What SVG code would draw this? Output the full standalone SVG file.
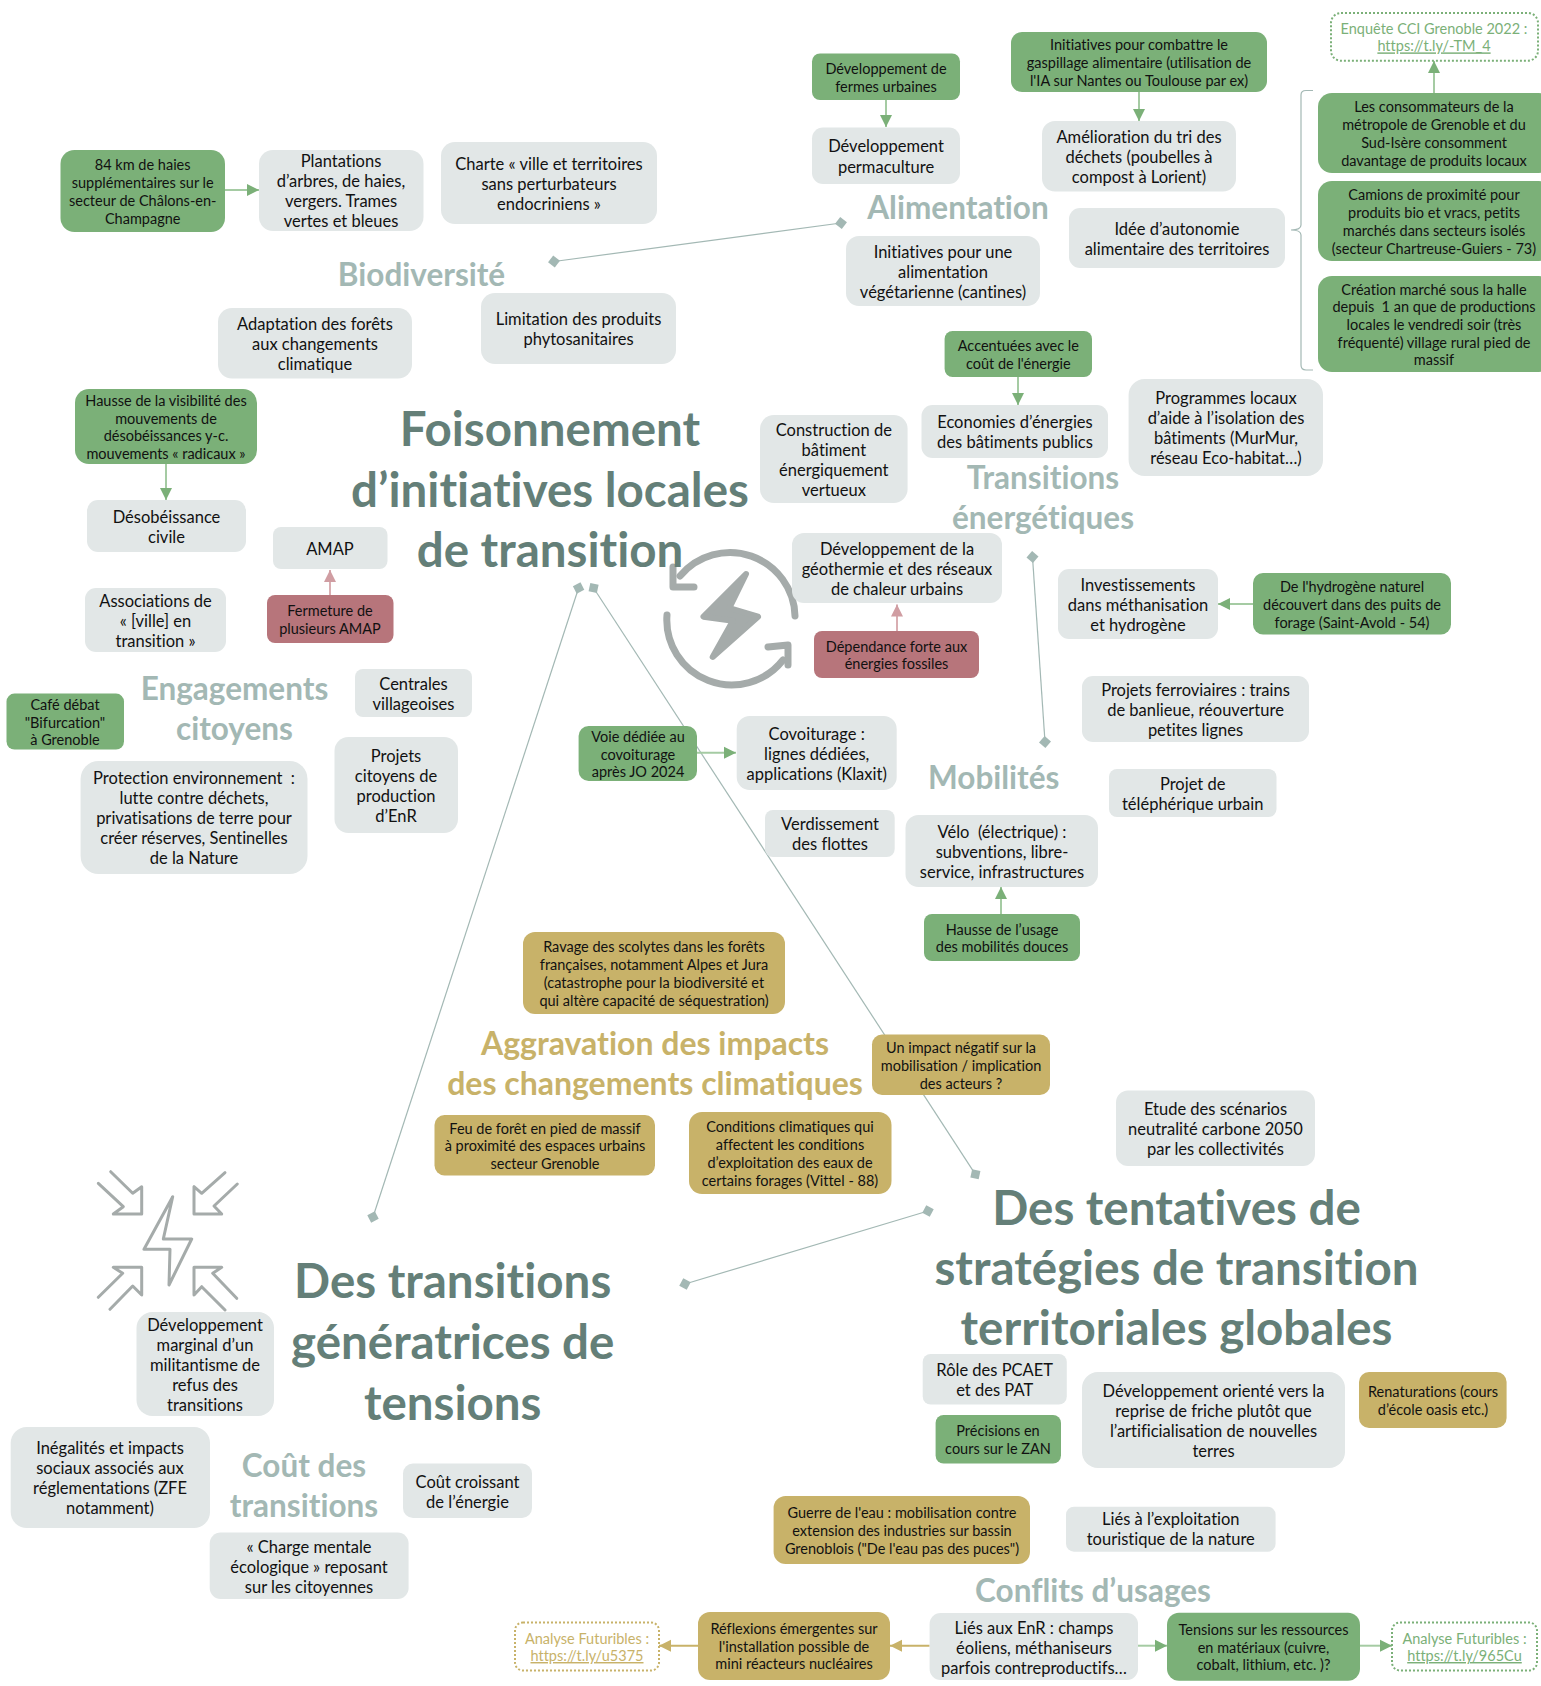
<svg xmlns="http://www.w3.org/2000/svg" width="1541" height="1686" viewBox="0 0 1541 1686">
<style>
text{font-family:"Lato","Noto Sans",sans-serif;text-anchor:middle;fill:#111;font-variant-ligatures:none;white-space:pre}
.g{fill:#e2e7e7}.v{fill:#7bb078}.r{fill:#b7757b}.o{fill:#c8b269}
.s{font-size:16.5px;transform:translateY(1px)}.c{font-size:14.5px;transform:translateY(1px)}
.h1{font-size:47.5px;font-weight:700;fill:#647f78}
.h2{font-size:31.5px;font-weight:700;fill:#a3b8b4}
.h3{font-size:32px;font-weight:700;fill:#c8b269}
.lv,.lo{font-size:14.5px;transform:translateY(1px)}.lv{fill:#7bb078}.lo{fill:#c8b269}
.u{text-decoration:underline}
.dv,.do{fill:#fff;stroke-width:2;stroke-dasharray:2 2}.dv{stroke:#7bb078}.do{stroke:#c8b269}
.link{fill:none;stroke:#a3b8b4;stroke-width:1.2}
.ag{stroke:#a5cba3;stroke-width:2;fill:none}.ar{stroke:#d9aeb2;stroke-width:2;fill:none}.ao{stroke:#c8b269;stroke-width:2;fill:none}
.ic{fill:none;stroke:#a5abaa;stroke-linejoin:round;stroke-linecap:round}
</style>
<defs>
<marker id="mg" markerUnits="userSpaceOnUse" markerWidth="13" markerHeight="13" refX="12" refY="6.5" orient="auto"><path d="M0 0.5L12 6.5L0 12.5Z" fill="#7bb078"/></marker>
<marker id="mr" markerUnits="userSpaceOnUse" markerWidth="13" markerHeight="13" refX="12" refY="6.5" orient="auto"><path d="M0 0.5L12 6.5L0 12.5Z" fill="#d09da2"/></marker>
<marker id="mo" markerUnits="userSpaceOnUse" markerWidth="13" markerHeight="13" refX="12" refY="6.5" orient="auto"><path d="M0 0.5L12 6.5L0 12.5Z" fill="#c8b269"/></marker>
<marker id="dm" markerUnits="userSpaceOnUse" markerWidth="14" markerHeight="14" refX="7" refY="7" orient="auto"><path d="M7 1L13 7L7 13L1 7Z" fill="#a3b8b4"/></marker>
</defs>
<rect width="1541" height="1686" fill="#fff"/>
<g id="connectors">
<path class="link" marker-start="url(#dm)" marker-end="url(#dm)" d="M554 261.5L841 223"/>
<path class="link" marker-start="url(#dm)" marker-end="url(#dm)" d="M1032.5 557L1045 742"/>
<path class="link" marker-start="url(#dm)" marker-end="url(#dm)" d="M578.6 588L373 1217"/>
<path class="link" marker-start="url(#dm)" marker-end="url(#dm)" d="M593.6 588L975.4 1174.3"/>
<path class="link" marker-start="url(#dm)" marker-end="url(#dm)" d="M685 1284L928 1211"/>
<path class="ag" marker-end="url(#mg)" d="M225 190H259"/>
<path class="ag" marker-end="url(#mg)" d="M166 464V500"/>
<path class="ag" marker-end="url(#mg)" d="M886 100V127"/>
<path class="ag" marker-end="url(#mg)" d="M1139 92V121"/>
<path class="ag" marker-end="url(#mg)" d="M1434 93V61"/>
<path class="ag" marker-end="url(#mg)" d="M1018 377V405"/>
<path class="ag" marker-end="url(#mg)" d="M1253 604H1218"/>
<path class="ag" marker-end="url(#mg)" d="M697 752.7H736"/>
<path class="ag" marker-end="url(#mg)" d="M1001 914V887"/>
<path class="ar" marker-end="url(#mr)" d="M897 631V604.5"/>
<path class="ar" marker-end="url(#mr)" d="M330 595V570"/>
<path class="ao" marker-end="url(#mo)" d="M929.6 1645.7H890"/>
<path class="ao" marker-end="url(#mo)" d="M698 1645.7H659"/>
<path class="ag" marker-end="url(#mg)" d="M1138 1645.7H1167"/>
<path class="ag" marker-end="url(#mg)" d="M1360 1645.7H1392"/>
<path fill="none" stroke="#a3b8b4" stroke-width="1.2" d="M1313 90.5H1306Q1301 90.5 1301 95V225Q1301 230 1291 230Q1301 230 1301 235V365Q1301 370 1306 370H1313"/>
</g>
<g id="icon-cycle">
<path class="ic" stroke-width="7" d="M795 616A65 65 0 0 0 680 576"/>
<path class="ic" stroke-width="7" d="M673 567V587H694"/>
<path class="ic" stroke-width="7" d="M667 615A65 65 0 0 0 783 660"/>
<path class="ic" stroke-width="7" d="M768 647L788 645V665"/>
<path d="M746 574L703.5 616.7L733 620.7L712.7 657L758 616.7L729.3 608Z" fill="#a5abaa" stroke="#a5abaa" stroke-width="6" stroke-linejoin="round"/>
</g>
<g id="icon-tension">
<path class="ic" stroke-width="3" d="M172.7 1196.7L144 1249.3H170L169 1285L191.7 1239H163.3Z"/>
<path class="ic" stroke-width="3" d="M98.3 1183.3L123.3 1206.7L113.3 1214H141.7V1186.7L132.7 1193.3L110.7 1171.7"/>
<path class="ic" stroke-width="3" d="M225 1172.7L201.7 1193.3L194 1186.7V1214H221.7L214 1206L237.3 1184"/>
<path class="ic" stroke-width="3" d="M98.3 1297.3L122.7 1273.3L113.3 1267.3H141.7V1295L132.7 1286L110 1309.3"/>
<path class="ic" stroke-width="3" d="M236.7 1298.3L212.7 1273.3L221.7 1267.3H194V1295L201.7 1286.7L225 1310"/>
</g>
<g id="titles">
<text class="h1" x="550" y="446">Foisonnement<tspan x="550" y="506.5">d’initiatives locales</tspan><tspan x="550" y="567">de transition</tspan></text>
<text class="h1" x="1176.5" y="1225">Des tentatives de<tspan x="1176.5" y="1285">stratégies de transition</tspan><tspan x="1176.5" y="1345">territoriales globales</tspan></text>
<text class="h1" x="452.7" y="1298">Des transitions<tspan x="452.7" y="1359">génératrices de</tspan><tspan x="452.7" y="1420">tensions</tspan></text>
<text class="h2" x="421.5" y="286">Biodiversité</text>
<text class="h2" x="958" y="219">Alimentation</text>
<text class="h2" x="1043" y="489">Transitions<tspan x="1043" y="529">énergétiques</tspan></text>
<text class="h2" x="234.5" y="700">Engagements<tspan x="234.5" y="740">citoyens</tspan></text>
<text class="h2" x="993.7" y="789">Mobilités</text>
<text class="h2" x="304" y="1477">Coût des<tspan x="304" y="1517">transitions</tspan></text>
<text class="h2" x="1093" y="1602">Conflits d’usages</text>
<text class="h3" x="655" y="1055">Aggravation des impacts<tspan x="655" y="1095">des changements climatiques</tspan></text>
</g>
<g id="n1"><rect class="v" x="60.5" y="150" width="164.5" height="82" rx="14"/><text class="c" x="142.7" y="169.4">84 km de haies<tspan x="142.7" dy="17.7">supplémentaires sur le</tspan><tspan x="142.7" dy="17.7">secteur de Châlons-en-</tspan><tspan x="142.7" dy="17.7">Champagne</tspan></text></g>
<g id="n2"><rect class="g" x="259" y="150" width="164.5" height="81" rx="14"/><text class="s" x="341" y="166">Plantations<tspan x="341" dy="20">d’arbres, de haies,</tspan><tspan x="341" dy="20">vergers. Trames</tspan><tspan x="341" dy="20">vertes et bleues</tspan></text></g>
<g id="n3"><rect class="g" x="441" y="142" width="216" height="82" rx="14"/><text class="s" x="549" y="168.6">Charte « ville et territoires<tspan x="549" dy="20">sans perturbateurs</tspan><tspan x="549" dy="20">endocriniens »</tspan></text></g>
<g id="n4"><rect class="g" x="218" y="308" width="194" height="70.6" rx="14"/><text class="s" x="315" y="329">Adaptation des forêts<tspan x="315" dy="20">aux changements</tspan><tspan x="315" dy="20">climatique</tspan></text></g>
<g id="n5"><rect class="g" x="481" y="293" width="195" height="71" rx="14"/><text class="s" x="578.5" y="324">Limitation des produits<tspan x="578.5" dy="20">phytosanitaires</tspan></text></g>
<g id="n6"><rect class="v" x="75" y="389" width="182" height="75" rx="14"/><text class="c" x="166" y="405">Hausse de la visibilité des<tspan x="166" dy="17.7">mouvements de</tspan><tspan x="166" dy="17.7">désobéissances y-c.</tspan><tspan x="166" dy="17.7">mouvements « radicaux »</tspan></text></g>
<g id="n7"><rect class="g" x="87" y="500" width="159" height="52" rx="11"/><text class="s" x="166.5" y="521.6">Désobéissance<tspan x="166.5" dy="20">civile</tspan></text></g>
<g id="n8"><rect class="g" x="273" y="527" width="114.5" height="42" rx="8"/><text class="s" x="330" y="553.6">AMAP</text></g>
<g id="n9"><rect class="r" x="267" y="595" width="126.5" height="48" rx="8"/><text class="c" x="330" y="615">Fermeture de<tspan x="330" dy="17.7">plusieurs AMAP</tspan></text></g>
<g id="n10"><rect class="g" x="85" y="588" width="141" height="64" rx="11"/><text class="s" x="155.5" y="605.6">Associations de<tspan x="155.5" dy="20">« [ville] en</tspan><tspan x="155.5" dy="20">transition »</tspan></text></g>
<g id="n11"><rect class="v" x="6.5" y="693.6" width="117.5" height="55.9" rx="8"/><text class="c" x="65" y="708.8">Café débat<tspan x="65" dy="17.7">"Bifurcation"</tspan><tspan x="65" dy="17.7">à Grenoble</tspan></text></g>
<g id="n12"><rect class="g" x="355" y="669" width="117" height="48" rx="8"/><text class="s" x="413.5" y="688.6">Centrales<tspan x="413.5" dy="20">villageoises</tspan></text></g>
<g id="n13"><rect class="g" x="334.5" y="737" width="123.5" height="96" rx="14"/><text class="s" x="396" y="760.6">Projets<tspan x="396" dy="20">citoyens de</tspan><tspan x="396" dy="20">production</tspan><tspan x="396" dy="20">d’EnR</tspan></text></g>
<g id="n14"><rect class="g" x="80.6" y="761" width="226.9" height="113" rx="18"/><text class="s" x="194" y="783">Protection environnement  :<tspan x="194" dy="20">lutte contre déchets,</tspan><tspan x="194" dy="20">privatisations de terre pour</tspan><tspan x="194" dy="20">créer réserves, Sentinelles</tspan><tspan x="194" dy="20">de la Nature</tspan></text></g>
<g id="n15"><rect class="v" x="578.6" y="726" width="118.4" height="55" rx="10"/><text class="c" x="638" y="740.8">Voie dédiée au<tspan x="638" dy="17.7">covoiturage</tspan><tspan x="638" dy="17.7">après JO 2024</tspan></text></g>
<g id="n16"><rect class="g" x="736.7" y="716" width="160" height="74" rx="13"/><text class="s" x="816.7" y="738.6">Covoiturage :<tspan x="816.7" dy="20">lignes dédiées,</tspan><tspan x="816.7" dy="20">applications (Klaxit)</tspan></text></g>
<g id="n17"><rect class="g" x="765" y="810" width="129.7" height="47" rx="8"/><text class="s" x="830" y="829">Verdissement<tspan x="830" dy="20">des flottes</tspan></text></g>
<g id="n18"><rect class="g" x="905.5" y="815" width="192.5" height="72" rx="13"/><text class="s" x="1002" y="836.6">Vélo  (électrique) :<tspan x="1002" dy="20">subventions, libre-</tspan><tspan x="1002" dy="20">service, infrastructures</tspan></text></g>
<g id="n19"><rect class="v" x="924" y="914" width="156" height="47" rx="8"/><text class="c" x="1002" y="933.6">Hausse de l’usage<tspan x="1002" dy="17.7">des mobilités douces</tspan></text></g>
<g id="n20"><rect class="g" x="812" y="127.5" width="148" height="56.5" rx="11"/><text class="s" x="886" y="151.3">Développement<tspan x="886" dy="21">permaculture</tspan></text></g>
<g id="n21"><rect class="v" x="812" y="53.5" width="148" height="46.5" rx="8"/><text class="c" x="886" y="72.8">Développement de<tspan x="886" dy="17.7">fermes urbaines</tspan></text></g>
<g id="n22"><rect class="v" x="1011" y="32" width="256" height="60" rx="11"/><text class="c" x="1139" y="49.3">Initiatives pour combattre le<tspan x="1139" dy="17.7">gaspillage alimentaire (utilisation de</tspan><tspan x="1139" dy="17.7">l'IA sur Nantes ou Toulouse par ex)</tspan></text></g>
<g id="n23"><rect class="g" x="1042" y="121" width="194" height="70.5" rx="13"/><text class="s" x="1139" y="141.7">Amélioration du tri des<tspan x="1139" dy="20">déchets (poubelles à</tspan><tspan x="1139" dy="20">compost à Lorient)</tspan></text></g>
<g id="n24"><rect class="g" x="846" y="236" width="194" height="70" rx="13"/><text class="s" x="943" y="256.6">Initiatives pour une<tspan x="943" dy="20">alimentation</tspan><tspan x="943" dy="20">végétarienne (cantines)</tspan></text></g>
<g id="n25"><rect class="g" x="1069" y="208" width="216" height="60" rx="11"/><text class="s" x="1177" y="233.6">Idée d’autonomie<tspan x="1177" dy="20">alimentaire des territoires</tspan></text></g>
<g id="n26"><rect class="dv" x="1331" y="13" width="207" height="47.7" rx="10"/><text class="lv" x="1434" y="33">Enquête CCI Grenoble 2022 :<tspan class="u" x="1434" y="50.4">https://t.ly/-TM_4</tspan></text></g>
<g id="n27"><rect class="v" x="1318" y="93" width="235" height="80" rx="14"/><text class="c" x="1434" y="111.4">Les consommateurs de la<tspan x="1434" dy="17.7">métropole de Grenoble et du</tspan><tspan x="1434" dy="17.7">Sud-Isère consomment</tspan><tspan x="1434" dy="17.7">davantage de produits locaux</tspan></text></g>
<g id="n28"><rect class="v" x="1318" y="181" width="235" height="80" rx="14"/><text class="c" x="1434" y="199.4">Camions de proximité pour<tspan x="1434" dy="17.7">produits bio et vracs, petits</tspan><tspan x="1434" dy="17.7">marchés dans secteurs isolés</tspan><tspan x="1434" dy="17.7">(secteur Chartreuse-Guiers - 73)</tspan></text></g>
<g id="n29"><rect class="v" x="1318" y="276" width="235" height="96" rx="14"/><text class="c" x="1434" y="293.6">Création marché sous la halle<tspan x="1434" dy="17.7">depuis  1 an que de productions</tspan><tspan x="1434" dy="17.7">locales le vendredi soir (très</tspan><tspan x="1434" dy="17.7">fréquenté) village rural pied de</tspan><tspan x="1434" dy="17.7">massif</tspan></text></g>
<g id="n30"><rect class="v" x="944.6" y="331" width="147.4" height="46" rx="8"/><text class="c" x="1018.3" y="350">Accentuées avec le<tspan x="1018.3" dy="17.7">coût de l'énergie</tspan></text></g>
<g id="n31"><rect class="g" x="921.5" y="405" width="186.5" height="53" rx="11"/><text class="s" x="1015" y="427">Economies d’énergies<tspan x="1015" dy="20">des bâtiments publics</tspan></text></g>
<g id="n32"><rect class="g" x="1128.6" y="379" width="194.4" height="97" rx="16"/><text class="s" x="1226" y="403">Programmes locaux<tspan x="1226" dy="20">d’aide à l’isolation des</tspan><tspan x="1226" dy="20">bâtiments (MurMur,</tspan><tspan x="1226" dy="20">réseau Eco-habitat…)</tspan></text></g>
<g id="n33"><rect class="g" x="760" y="415" width="147.6" height="88" rx="14"/><text class="s" x="833.8" y="434.6">Construction de<tspan x="833.8" dy="20">bâtiment</tspan><tspan x="833.8" dy="20">énergiquement</tspan><tspan x="833.8" dy="20">vertueux</tspan></text></g>
<g id="n34"><rect class="g" x="792" y="533" width="210" height="70" rx="12"/><text class="s" x="897" y="553.6">Développement de la<tspan x="897" dy="20">géothermie et des réseaux</tspan><tspan x="897" dy="20">de chaleur urbains</tspan></text></g>
<g id="n35"><rect class="r" x="814" y="631" width="165" height="47" rx="8"/><text class="c" x="896.5" y="650.6">Dépendance forte aux<tspan x="896.5" dy="17.7">énergies fossiles</tspan></text></g>
<g id="n36"><rect class="g" x="1058" y="569" width="160" height="70" rx="11"/><text class="s" x="1138" y="589.6">Investissements<tspan x="1138" dy="20">dans méthanisation</tspan><tspan x="1138" dy="20">et hydrogène</tspan></text></g>
<g id="n37"><rect class="v" x="1253" y="573" width="198" height="61.5" rx="10"/><text class="c" x="1352" y="591.3">De l'hydrogène naturel<tspan x="1352" dy="17.7">découvert dans des puits de</tspan><tspan x="1352" dy="17.7">forage (Saint-Avold - 54)</tspan></text></g>
<g id="n38"><rect class="g" x="1082" y="676" width="227" height="66" rx="11"/><text class="s" x="1195.5" y="694.6">Projets ferroviaires : trains<tspan x="1195.5" dy="20">de banlieue, réouverture</tspan><tspan x="1195.5" dy="20">petites lignes</tspan></text></g>
<g id="n39"><rect class="g" x="1109" y="769" width="167.5" height="48" rx="8"/><text class="s" x="1192.7" y="788.6">Projet de<tspan x="1192.7" dy="20">téléphérique urbain</tspan></text></g>
<g id="n40"><rect class="o" x="523" y="932" width="262" height="82" rx="12"/><text class="c" x="654" y="951.4">Ravage des scolytes dans les forêts<tspan x="654" dy="17.7">françaises, notamment Alpes et Jura</tspan><tspan x="654" dy="17.7">(catastrophe pour la biodiversité et</tspan><tspan x="654" dy="17.7">qui altère capacité de séquestration)</tspan></text></g>
<g id="n41"><rect class="o" x="872" y="1034.5" width="178" height="60.5" rx="10"/><text class="c" x="961" y="1052.3">Un impact négatif sur la<tspan x="961" dy="17.7">mobilisation / implication</tspan><tspan x="961" dy="17.7">des acteurs ?</tspan></text></g>
<g id="n42"><rect class="o" x="434.5" y="1115" width="220.5" height="60.5" rx="10"/><text class="c" x="545" y="1132.5">Feu de forêt en pied de massif<tspan x="545" dy="17.7">à proximité des espaces urbains</tspan><tspan x="545" dy="17.7">secteur Grenoble</tspan></text></g>
<g id="n43"><rect class="o" x="689" y="1112" width="202.5" height="82" rx="13"/><text class="c" x="790" y="1131.4">Conditions climatiques qui<tspan x="790" dy="17.7">affectent les conditions</tspan><tspan x="790" dy="17.7">d’exploitation des eaux de</tspan><tspan x="790" dy="17.7">certains forages (Vittel - 88)</tspan></text></g>
<g id="n44"><rect class="g" x="1116" y="1090.5" width="199" height="75.5" rx="12"/><text class="s" x="1215.5" y="1113.9">Etude des scénarios<tspan x="1215.5" dy="20">neutralité carbone 2050</tspan><tspan x="1215.5" dy="20">par les collectivités</tspan></text></g>
<g id="n45"><rect class="g" x="136.5" y="1312" width="137.5" height="104" rx="16"/><text class="s" x="205" y="1329.6">Développement<tspan x="205" dy="20">marginal d’un</tspan><tspan x="205" dy="20">militantisme de</tspan><tspan x="205" dy="20">refus des</tspan><tspan x="205" dy="20">transitions</tspan></text></g>
<g id="n46"><rect class="g" x="10.7" y="1427" width="199.3" height="101" rx="16"/><text class="s" x="110" y="1453">Inégalités et impacts<tspan x="110" dy="20">sociaux associés aux</tspan><tspan x="110" dy="20">réglementations (ZFE</tspan><tspan x="110" dy="20">notamment)</tspan></text></g>
<g id="n47"><rect class="g" x="403" y="1463.6" width="129" height="54.4" rx="10"/><text class="s" x="467.5" y="1486.5">Coût croissant<tspan x="467.5" dy="20">de l’énergie</tspan></text></g>
<g id="n48"><rect class="g" x="209.7" y="1532.5" width="198.9" height="66.5" rx="11"/><text class="s" x="309" y="1551.5">« Charge mentale<tspan x="309" dy="20">écologique » reposant</tspan><tspan x="309" dy="20">sur les citoyennes</tspan></text></g>
<g id="n49"><rect class="g" x="922.7" y="1354" width="144.1" height="50.5" rx="8"/><text class="s" x="994.7" y="1375">Rôle des PCAET<tspan x="994.7" dy="20">et des PAT</tspan></text></g>
<g id="n50"><rect class="v" x="935.6" y="1415" width="125.4" height="48.6" rx="8"/><text class="c" x="998" y="1435">Précisions en<tspan x="998" dy="17.7">cours sur le ZAN</tspan></text></g>
<g id="n51"><rect class="g" x="1082" y="1372" width="263" height="96" rx="16"/><text class="s" x="1213.5" y="1395.6">Développement orienté vers la<tspan x="1213.5" dy="20">reprise de friche plutôt que</tspan><tspan x="1213.5" dy="20">l’artificialisation de nouvelles</tspan><tspan x="1213.5" dy="20">terres</tspan></text></g>
<g id="n52"><rect class="o" x="1359" y="1372" width="147.6" height="56" rx="10"/><text class="c" x="1433" y="1396">Renaturations (cours<tspan x="1433" dy="17.7">d’école oasis etc.)</tspan></text></g>
<g id="n53"><rect class="o" x="773.6" y="1496" width="256.4" height="68" rx="12"/><text class="c" x="902" y="1517.3">Guerre de l'eau : mobilisation contre<tspan x="902" dy="17.7">extension des industries sur bassin</tspan><tspan x="902" dy="17.7">Grenoblois ("De l'eau pas des puces")</tspan></text></g>
<g id="n54"><rect class="g" x="1066" y="1506.7" width="209.6" height="45" rx="8"/><text class="s" x="1170.8" y="1524.2">Liés à l’exploitation<tspan x="1170.8" dy="20">touristique de la nature</tspan></text></g>
<g id="n55"><rect class="do" x="515" y="1622.5" width="144" height="48" rx="8"/><text class="lo" x="587" y="1643">Analyse Futuribles :<tspan class="u" x="587" y="1660">https://t.ly/u5375</tspan></text></g>
<g id="n56"><rect class="o" x="698" y="1612" width="192" height="68" rx="12"/><text class="c" x="794" y="1632.8">Réflexions émergentes sur<tspan x="794" dy="17.7">l'installation possible de</tspan><tspan x="794" dy="17.7">mini réacteurs nucléaires</tspan></text></g>
<g id="n57"><rect class="g" x="929.6" y="1613" width="208.4" height="67" rx="11"/><text class="s" x="1034" y="1633.3">Liés aux EnR : champs<tspan x="1034" dy="20">éoliens, méthaniseurs</tspan><tspan x="1034" dy="20">parfois contreproductifs…</tspan></text></g>
<g id="n58"><rect class="v" x="1167" y="1612.7" width="193" height="68" rx="12"/><text class="c" x="1263.5" y="1633.8">Tensions sur les ressources<tspan x="1263.5" dy="17.7">en matériaux (cuivre,</tspan><tspan x="1263.5" dy="17.7">cobalt, lithium, etc. )?</tspan></text></g>
<g id="n59"><rect class="dv" x="1392" y="1622.5" width="145" height="48" rx="8"/><text class="lv" x="1464.5" y="1643">Analyse Futuribles :<tspan class="u" x="1464.5" y="1660">https://t.ly/965Cu</tspan></text></g>
</svg>
